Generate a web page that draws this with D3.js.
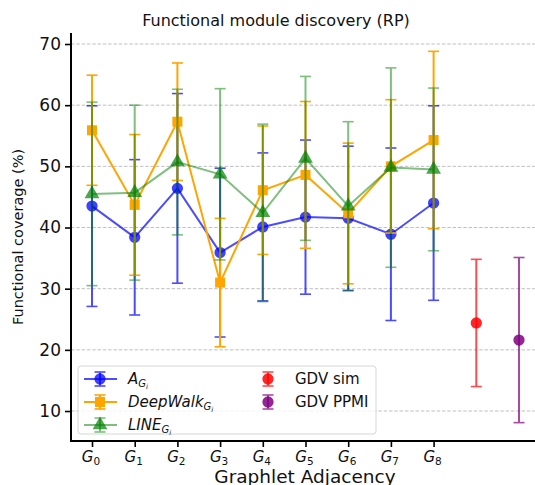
<!DOCTYPE html>
<html>
<head>
<meta charset="utf-8">
<script src="https://cdn.jsdelivr.net/npm/d3@7"></script>
<style>
  body { margin: 0; background: #fff; }
  svg { font-family: "DejaVu Sans", sans-serif; }
</style>
</head>
<body>
<svg id="chart" width="535" height="485"></svg>
<script>
/* Data */
var categories = ['0', '1', '2', '3', '4', '5', '6', '7', '8'];
var aMean = [43.5, 38.4, 46.4, 35.9, 40.1, 41.7, 41.5, 38.9, 44.0];
var aErr = [16.4, 12.7, 15.5, 13.8, 12.1, 12.6, 11.8, 14.1, 15.9];
var dwMean = [55.9, 43.7, 57.3, 31.0, 46.1, 48.6, 42.3, 50.0, 54.3];
var dwErr = [9.0, 11.5, 9.6, 10.5, 10.5, 12.0, 11.5, 10.9, 14.5];
var lineMean = [45.5, 45.7, 50.7, 48.7, 42.4, 51.3, 43.5, 49.8, 49.5];
var lineErr = [15.0, 14.3, 11.9, 14.0, 14.5, 13.4, 13.8, 16.3, 13.3];
var gdvMean = [24.4, 21.6];
var gdvErr = [10.4, 13.5];
var yTicks = [10, 20, 30, 40, 50, 60, 70];

var svg = d3.select('#chart');

var x = d3.scaleLinear().domain([0, 10]).range([92, 519]);
var y = d3.scaleLinear().domain([5.1, 71.8]).range([441, 33]);

/*Grid*/
svg.append('g').selectAll('line')
  .data(yTicks)
  .enter().append('line')
    .attr('x1', 71).attr('x2', 535)
    .attr('y1', function(d) { return y(d); })
    .attr('y2', function(d) { return y(d); })
    .attr('stroke', '#b0b0b0')
    .attr('stroke-width', 0.8)
    .attr('stroke-dasharray', '3.5,1.8');

/*Series*/
function symbolPath(type, size) {
  return d3.symbol().type(type).size(size)();
}

function drawSeries(means, errs, offset, color, alpha, markAlpha, symbol, size, withLine) {
  var pts = means.map(function(m, i) { return {i: i + offset, m: m, e: errs[i]}; });
  var g = svg.append('g');
  var eb = g.append('g').attr('opacity', alpha);
  eb.selectAll('line.bar').data(pts).enter().append('line')
    .attr('x1', function(d) { return x(d.i); })
    .attr('x2', function(d) { return x(d.i); })
    .attr('y1', function(d) { return y(d.m - d.e); })
    .attr('y2', function(d) { return y(d.m + d.e); })
    .attr('stroke', color).attr('stroke-width', 2);
  [-1, 1].forEach(function(s) {
    eb.selectAll('line.cap' + s).data(pts).enter().append('line')
      .attr('x1', function(d) { return x(d.i) - 5.5; })
      .attr('x2', function(d) { return x(d.i) + 5.5; })
      .attr('y1', function(d) { return y(d.m + s * d.e); })
      .attr('y2', function(d) { return y(d.m + s * d.e); })
      .attr('stroke', color).attr('stroke-width', 1.6);
  });
  if (withLine) {
    g.append('path')
      .datum(pts)
      .attr('d', d3.line().x(function(d) { return x(d.i); }).y(function(d) { return y(d.m); }))
      .attr('fill', 'none')
      .attr('stroke', color)
      .attr('stroke-width', 2)
      .attr('opacity', alpha);
  }
  g.selectAll('path.mk').data(pts).enter().append('path')
    .attr('transform', function(d) { return 'translate(' + x(d.i) + ',' + y(d.m) + ')'; })
    .attr('d', symbolPath(symbol, size))
    .attr('fill', color)
    .attr('opacity', markAlpha);
}

drawSeries(aMean, aErr, 0, 'blue', 0.7, 0.75, d3.symbolCircle, 100, true);
drawSeries(dwMean, dwErr, 0, 'orange', 1, 1, d3.symbolSquare, 100, true);
drawSeries(lineMean, lineErr, 0, 'green', 0.5, 0.7, d3.symbolTriangle, 95, true);
drawSeries([gdvMean[0]], [gdvErr[0]], 9, 'red', 0.7, 0.85, d3.symbolCircle, 100, false);
drawSeries([gdvMean[1]], [gdvErr[1]], 10, 'purple', 0.7, 0.85, d3.symbolCircle, 100, false);

/*Axes*/
var yAxis = svg.append('g')
  .attr('transform', 'translate(71,0)')
  .call(d3.axisLeft(y).tickValues(yTicks).tickSize(6).tickPadding(4));
yAxis.select('.domain').remove();
yAxis.selectAll('.tick line').attr('stroke-width', 1.6);
yAxis.selectAll('.tick text').attr('font-size', 17).attr('fill', '#111')
  .attr('font-family', '"DejaVu Sans", sans-serif');

var xAxis = svg.append('g')
  .attr('transform', 'translate(0,441)')
  .call(d3.axisBottom(x).tickValues(d3.range(categories.length)).tickSize(6).tickFormat(''));
xAxis.select('.domain').remove();
xAxis.selectAll('.tick line').attr('stroke-width', 1.6);

svg.append('g').selectAll('text')
  .data(categories)
  .enter().append('text')
    .attr('x', function(d, i) { return x(i) - 1; })
    .attr('y', 462)
    .attr('text-anchor', 'middle')
    .attr('font-size', 15)
    .attr('fill', '#111')
    .each(function(d) {
      var t = d3.select(this);
      t.append('tspan').attr('font-style', 'italic').text('G');
      t.append('tspan').attr('font-size', 10.5).attr('dy', 3).text(d);
    });

svg.append('line').attr('x1', 71).attr('x2', 71).attr('y1', 33).attr('y2', 442)
  .attr('stroke', '#000').attr('stroke-width', 2);
svg.append('line').attr('x1', 70).attr('x2', 535).attr('y1', 441).attr('y2', 441)
  .attr('stroke', '#000').attr('stroke-width', 2);

/*Labels*/
svg.append('text')
  .attr('x', 276).attr('y', 26)
  .attr('text-anchor', 'middle')
  .attr('font-size', 16)
  .attr('fill', '#111')
  .text('Functional module discovery (RP)');

svg.append('text')
  .attr('transform', 'translate(23,237) rotate(-90)')
  .attr('text-anchor', 'middle')
  .attr('font-size', 14.5)
  .attr('fill', '#111')
  .text('Functional coverage (%)');

svg.append('text')
  .attr('x', 305).attr('y', 483)
  .attr('text-anchor', 'middle')
  .attr('font-size', 18.5)
  .attr('fill', '#111')
  .text('Graphlet Adjacency');

/*Legend*/
var legend = svg.append('g');
legend.append('rect')
  .attr('x', 78).attr('y', 366).attr('width', 298).attr('height', 68)
  .attr('rx', 3)
  .attr('fill', 'white').attr('fill-opacity', 0.8)
  .attr('stroke', '#d6d6d6').attr('stroke-width', 1);

var legendItems = [
  {name: 'A', color: 'blue', alpha: 0.7, markAlpha: 0.75, symbol: d3.symbolCircle, size: 100, line: true, col: 0, row: 0},
  {name: 'DeepWalk', color: 'orange', alpha: 1, markAlpha: 1, symbol: d3.symbolSquare, size: 100, line: true, col: 0, row: 1},
  {name: 'LINE', color: 'green', alpha: 0.5, markAlpha: 0.7, symbol: d3.symbolTriangle, size: 95, line: true, col: 0, row: 2},
  {name: 'GDV sim', color: 'red', alpha: 0.7, markAlpha: 0.85, symbol: d3.symbolCircle, size: 100, line: false, col: 1, row: 0},
  {name: 'GDV PPMI', color: 'purple', alpha: 0.7, markAlpha: 0.85, symbol: d3.symbolCircle, size: 100, line: false, col: 1, row: 1}
];

legendItems.forEach(function(d) {
  var cx = d.col === 0 ? 100 : 268;
  var cy = 379 + d.row * 23;
  var g = legend.append('g').attr('transform', 'translate(' + cx + ',' + cy + ')');
  var eb = g.append('g').attr('opacity', d.alpha);
  eb.append('line').attr('x1', 0).attr('x2', 0).attr('y1', -7).attr('y2', 7)
    .attr('stroke', d.color).attr('stroke-width', 2);
  eb.append('line').attr('x1', -5.5).attr('x2', 5.5).attr('y1', -7).attr('y2', -7)
    .attr('stroke', d.color).attr('stroke-width', 1.6);
  eb.append('line').attr('x1', -5.5).attr('x2', 5.5).attr('y1', 7).attr('y2', 7)
    .attr('stroke', d.color).attr('stroke-width', 1.6);
  if (d.line) {
    g.append('line').attr('x1', -16).attr('x2', 17).attr('y1', 0).attr('y2', 0)
      .attr('stroke', d.color).attr('stroke-width', 2).attr('opacity', d.alpha);
  }
  g.append('path').attr('d', symbolPath(d.symbol, d.size))
    .attr('fill', d.color).attr('opacity', d.markAlpha);

  var t = legend.append('text')
    .attr('x', d.col === 0 ? 128 : 295)
    .attr('y', cy + 5)
    .attr('font-size', 15)
    .attr('fill', '#111');
  if (d.line) {
    t.append('tspan').attr('font-style', 'italic').text(d.name);
    t.append('tspan').attr('font-style', 'italic').attr('font-size', 10).attr('dy', 3).text('G');
    t.append('tspan').attr('font-style', 'italic').attr('font-size', 7).attr('dy', 2).text('i');
  } else {
    t.text(d.name);
  }
});
</script>
</body>
</html>
